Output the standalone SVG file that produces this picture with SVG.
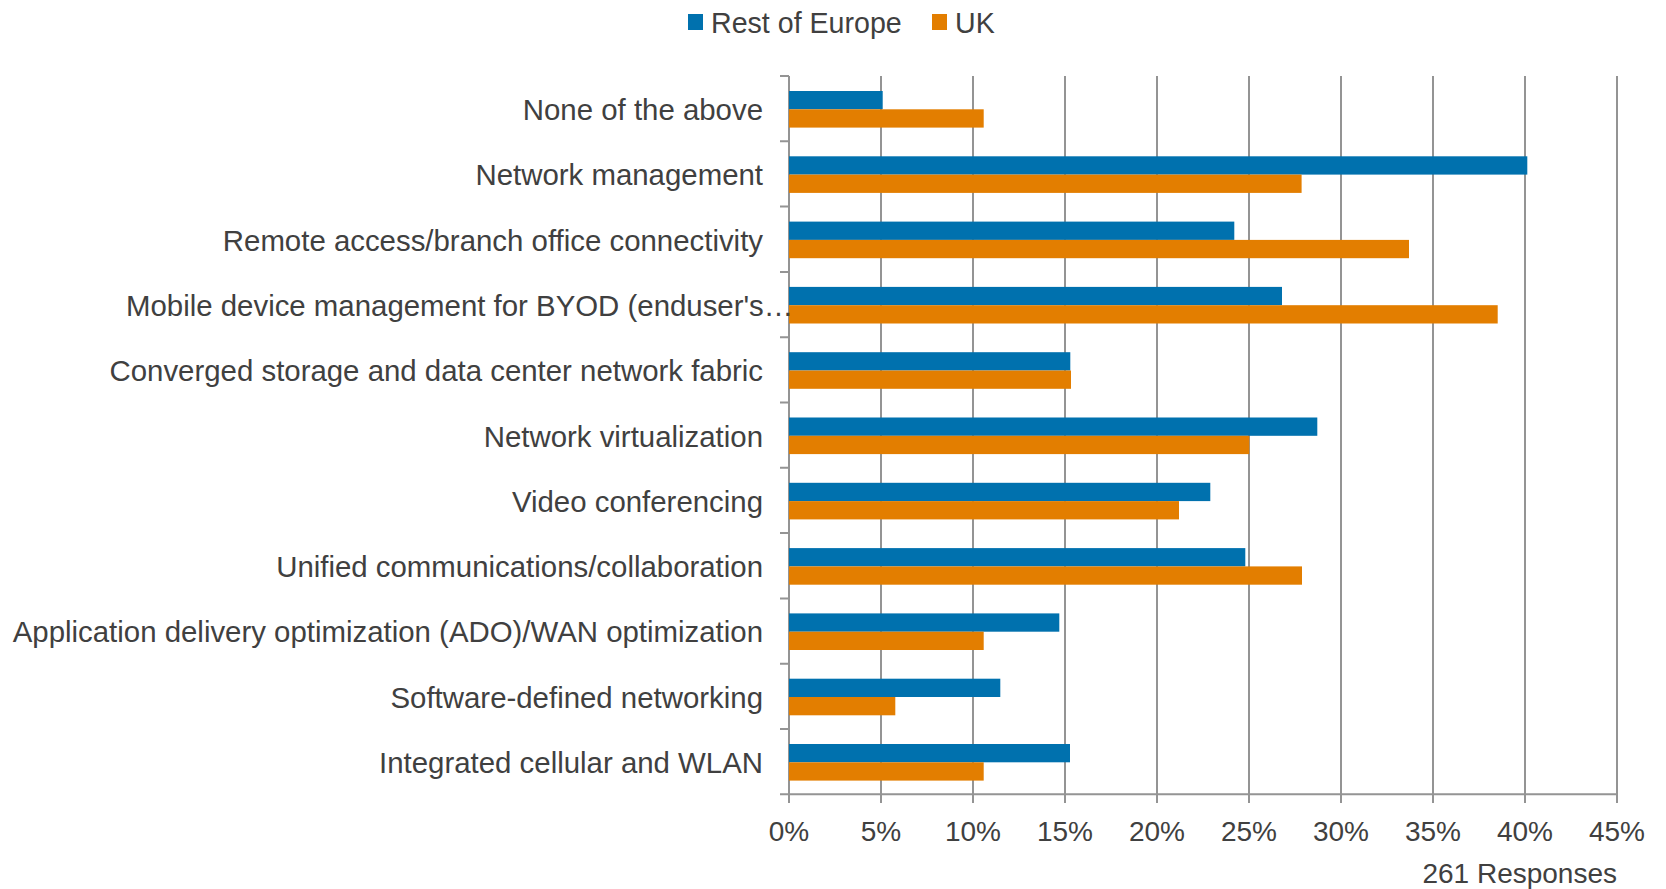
<svg xmlns="http://www.w3.org/2000/svg" width="1666" height="889" viewBox="0 0 1666 889">
<style>
text{font-family:"Liberation Sans",Arial,sans-serif;fill:#404040}
.lab{font-size:29.4px;text-anchor:end}
.tick{font-size:28px;text-anchor:middle}
.leg{font-size:28.6px}
.grid{stroke:#949494;stroke-width:2;fill:none}
.b{fill:#0071ae}
.o{fill:#e37e00}
</style>
<rect width="1666" height="889" fill="#fff"/>
<g id="legend">
<rect x="688" y="14" width="15" height="16" class="b"/>
<text class="leg" x="711" y="32.5">Rest of Europe</text>
<rect x="932" y="14" width="15" height="16" class="o"/>
<text class="leg" x="955" y="32.5">UK</text>
</g>
<g id="gridlines">
<path class="grid" d="M881 76V803M973 76V803M1065 76V803M1157 76V803M1249 76V803M1341 76V803M1433 76V803M1525 76V803M1617 76V803"/>
</g>
<g id="axes">
<path class="grid" d="M789 76V803M780 794.3H1617"/>
<path class="grid" d="M780 76H789M780 141.3H789M780 206.6H789M780 271.9H789M780 337.2H789M780 402.5H789M780 467.8H789M780 533.1H789M780 598.4H789M780 663.7H789M780 729H789"/>
</g>
<g id="bars">
<rect x="789" y="91" width="93.7" height="18.3" class="b"/>
<rect x="789" y="109.3" width="194.7" height="18.3" class="o"/>
<rect x="789" y="156.3" width="738.3" height="18.3" class="b"/>
<rect x="789" y="174.6" width="512.6" height="18.3" class="o"/>
<rect x="789" y="221.6" width="445.3" height="18.3" class="b"/>
<rect x="789" y="239.9" width="620" height="18.3" class="o"/>
<rect x="789" y="286.9" width="493" height="18.3" class="b"/>
<rect x="789" y="305.2" width="708.7" height="18.3" class="o"/>
<rect x="789" y="352.2" width="281.3" height="18.3" class="b"/>
<rect x="789" y="370.5" width="282" height="18.3" class="o"/>
<rect x="789" y="417.5" width="528.3" height="18.3" class="b"/>
<rect x="789" y="435.8" width="460.3" height="18.3" class="o"/>
<rect x="789" y="482.8" width="421.3" height="18.3" class="b"/>
<rect x="789" y="501.1" width="390" height="18.3" class="o"/>
<rect x="789" y="548.1" width="456.3" height="18.3" class="b"/>
<rect x="789" y="566.4" width="513" height="18.3" class="o"/>
<rect x="789" y="613.4" width="270.3" height="18.3" class="b"/>
<rect x="789" y="631.7" width="194.7" height="18.3" class="o"/>
<rect x="789" y="678.7" width="211.3" height="18.3" class="b"/>
<rect x="789" y="697" width="106.3" height="18.3" class="o"/>
<rect x="789" y="744" width="281" height="18.3" class="b"/>
<rect x="789" y="762.3" width="194.7" height="18.3" class="o"/>
</g>
<g id="labels">
<text class="lab" x="763" y="120">None of the above</text>
<text class="lab" x="763" y="185.3">Network management</text>
<text class="lab" x="763" y="250.6">Remote access/branch office connectivity</text>
<text class="lab" x="126" y="315.9" style="text-anchor:start">Mobile device management for BYOD (enduser's…</text>
<text class="lab" x="763" y="381.2">Converged storage and data center network fabric</text>
<text class="lab" x="763" y="446.5">Network virtualization</text>
<text class="lab" x="763" y="511.8">Video conferencing</text>
<text class="lab" x="763" y="577.1">Unified communications/collaboration</text>
<text class="lab" x="763" y="642.4">Application delivery optimization (ADO)/WAN optimization</text>
<text class="lab" x="763" y="707.7">Software-defined networking</text>
<text class="lab" x="763" y="773">Integrated cellular and WLAN</text>
</g>
<g id="ticklabels">
<text class="tick" x="789" y="841">0%</text>
<text class="tick" x="881" y="841">5%</text>
<text class="tick" x="973" y="841">10%</text>
<text class="tick" x="1065" y="841">15%</text>
<text class="tick" x="1157" y="841">20%</text>
<text class="tick" x="1249" y="841">25%</text>
<text class="tick" x="1341" y="841">30%</text>
<text class="tick" x="1433" y="841">35%</text>
<text class="tick" x="1525" y="841">40%</text>
<text class="tick" x="1617" y="841">45%</text>
<text x="1617" y="883" style="font-size:28px;text-anchor:end">261 Responses</text>
</g>
</svg>
